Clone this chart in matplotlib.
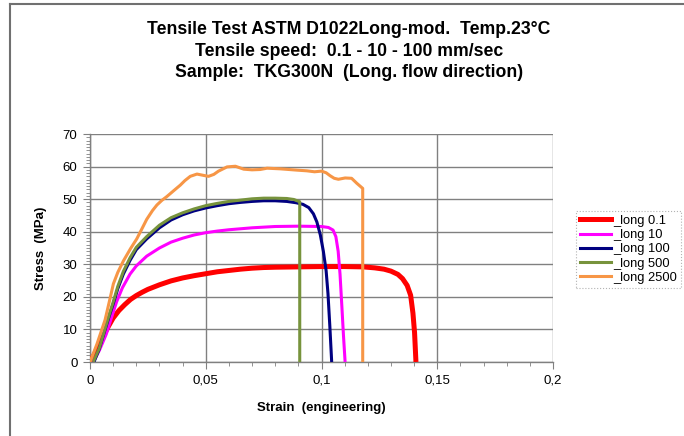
import matplotlib
matplotlib.use("Agg")
import matplotlib.pyplot as plt
from matplotlib.lines import Line2D
from matplotlib.ticker import MultipleLocator, FuncFormatter

plt.rcParams['font.family'] = ['Liberation Sans', 'DejaVu Sans']

labels = ["_long 0.1", "_long 10", "_long 100", "_long 500", "_long 2500"]
colors = ["#FF0000", "#FF00FF", "#000080", "#77933C", "#F79646"]
widths = [3.6, 2.2, 2.2, 2.2, 2.2]

strain_01 = [0.0, 0.002, 0.004, 0.006, 0.008, 0.010, 0.0125, 0.015, 0.0175, 0.02, 0.0225, 0.025, 0.03, 0.035, 0.04, 0.045, 0.05, 0.055, 0.06, 0.065, 0.07, 0.075, 0.08, 0.09, 0.1, 0.11, 0.118, 0.123, 0.127, 0.13, 0.133, 0.135, 0.137, 0.1385, 0.1395, 0.1402, 0.1408]
stress_01 = [0.0, 2.5, 5.5, 8.3, 11.0, 13.5, 15.8, 17.6, 19.2, 20.4, 21.4, 22.3, 23.7, 24.9, 25.8, 26.5, 27.1, 27.7, 28.1, 28.5, 28.8, 29.0, 29.1, 29.2, 29.3, 29.3, 29.2, 28.9, 28.5, 27.9, 26.9, 25.6, 23.5, 20.5, 15.0, 9.0, 0.0]

strain_10 = [0.0014, 0.004, 0.007, 0.009, 0.0115, 0.014, 0.0173, 0.02, 0.0245, 0.03, 0.035, 0.04, 0.045, 0.05, 0.055, 0.06, 0.065, 0.07, 0.075, 0.08, 0.09, 0.1, 0.103, 0.105, 0.1062, 0.1072, 0.108, 0.1088, 0.1095, 0.1102]
stress_10 = [0.0, 3.5, 8.5, 13.0, 18.5, 22.8, 27.0, 29.5, 32.5, 35.0, 36.8, 38.0, 39.0, 39.7, 40.2, 40.6, 40.9, 41.2, 41.4, 41.6, 41.7, 41.6, 41.3, 40.5, 38.5, 34.0, 27.0, 17.0, 8.0, 0.0]

strain_100 = [0.0017, 0.004, 0.0065, 0.0085, 0.0101, 0.012, 0.0144, 0.0173, 0.02, 0.0245, 0.03, 0.035, 0.04, 0.045, 0.05, 0.055, 0.06, 0.065, 0.07, 0.075, 0.08, 0.085, 0.089, 0.092, 0.0945, 0.0965, 0.098, 0.0995, 0.1008, 0.102, 0.1028, 0.1036, 0.1044]
stress_100 = [0.0, 4.0, 9.9, 14.5, 18.0, 22.5, 27.0, 31.2, 34.5, 37.8, 41.2, 43.6, 45.2, 46.4, 47.3, 48.0, 48.6, 49.0, 49.3, 49.5, 49.5, 49.3, 48.9, 48.4, 47.4, 45.5, 43.0, 39.0, 34.0, 28.0, 21.0, 11.0, 0.0]

strain_500 = [0.0014, 0.004, 0.0065, 0.0085, 0.0101, 0.012, 0.0144, 0.0173, 0.02, 0.0245, 0.03, 0.035, 0.04, 0.045, 0.05, 0.055, 0.06, 0.065, 0.07, 0.075, 0.08, 0.085, 0.088, 0.0906, 0.0906]
stress_500 = [0.0, 4.2, 10.2, 15.0, 18.6, 23.2, 27.8, 32.0, 35.2, 38.5, 42.0, 44.3, 45.8, 47.0, 48.0, 48.7, 49.3, 49.7, 50.1, 50.3, 50.3, 50.2, 49.9, 49.2, 0.0]

strain_2500 = [0.0, 0.003, 0.0065, 0.0085, 0.0101, 0.012, 0.0144, 0.0175, 0.0202, 0.0225, 0.0245, 0.027, 0.0289, 0.031, 0.0332, 0.036, 0.039, 0.041, 0.0433, 0.0462, 0.049, 0.0512, 0.0535, 0.0555, 0.0592, 0.0628, 0.0664, 0.07, 0.0735, 0.0765, 0.0823, 0.0895, 0.0936, 0.097, 0.1, 0.102, 0.1037, 0.1055, 0.1073, 0.1102, 0.113, 0.1152, 0.1178, 0.1178]
stress_2500 = [0.0, 5.5, 12.9, 19.0, 24.0, 27.5, 31.0, 34.8, 37.8, 41.0, 43.8, 46.5, 48.2, 49.6, 50.8, 52.5, 54.3, 55.7, 57.0, 57.7, 57.3, 57.0, 57.6, 58.6, 59.9, 60.1, 59.2, 59.0, 59.1, 59.5, 59.3, 58.9, 58.7, 58.4, 58.6, 58.1, 57.2, 56.4, 56.1, 56.5, 56.4, 54.9, 53.3, 0.0]

series = [(strain_01, stress_01), (strain_10, stress_10), (strain_100, stress_100),
          (strain_500, stress_500), (strain_2500, stress_2500)]

title = "Tensile Test ASTM D1022Long-mod.  Temp.23°C\nTensile speed:  0.1 - 10 - 100 mm/sec\nSample:  TKG300N  (Long. flow direction)"

fig = plt.figure(figsize=(6.84, 4.36), dpi=100)
W, H = 684, 436
ax = fig.add_axes([90 / W, 1 - 362 / H, (553 - 90) / W, (362 - 134) / H])

for (x, y), c, lw in zip(series, colors, widths):
    ax.plot(x, y, color=c, lw=lw, solid_joinstyle='round', solid_capstyle='butt', zorder=3)

ax.set_xlim(0, 0.2)
ax.set_ylim(0, 70)
ax.xaxis.set_major_locator(MultipleLocator(0.05))
ax.xaxis.set_minor_locator(MultipleLocator(0.01))
ax.yaxis.set_major_locator(MultipleLocator(10))
ax.yaxis.set_minor_locator(MultipleLocator(1))

def fmt(v, pos):
    s = ("%.2f" % v).rstrip('0').rstrip('.')
    return s.replace('.', ',')
ax.xaxis.set_major_formatter(FuncFormatter(fmt))

ax.grid(True, which='major', color='#808080', lw=1.0, zorder=1)
for s in ['top', 'right']:
    ax.spines[s].set_visible(False)
for s in ['left', 'bottom']:
    ax.spines[s].set_color('#808080')
    ax.spines[s].set_linewidth(1.0)
ax.tick_params(which='major', direction='out', length=5, width=0.8, color='#808080', labelsize=9.5, pad=4)
ax.tick_params(which='minor', direction='out', length=3, width=0.6, color='#808080')

ax.set_xlabel("Strain  (engineering)", fontsize=9.5, fontweight='bold', labelpad=11)
ax.set_ylabel("Stress  (MPa)", fontsize=9.5, fontweight='bold', labelpad=11)

fig.text(349 / W, 1 - 51 / H, title, ha='center', va='center', fontsize=12.7,
         fontweight='bold', linespacing=1.32)

handles = [Line2D([], [], color=c, lw=lw) for c, lw in zip(colors, widths)]
leg = fig.legend(handles, labels, loc='upper left', bbox_to_anchor=(576 / W, 1 - 211 / H),
                 fontsize=9.3, frameon=True, fancybox=False, borderpad=0.3,
                 handlelength=2.4, handletextpad=0.15, labelspacing=0.17, borderaxespad=0)
leg.get_frame().set_edgecolor('#A0A0A0')
leg.get_frame().set_linewidth(0.8)
leg.get_frame().set_linestyle(':')

# figure border lines (top and left)
fig.add_artist(Line2D([10 / W, 1], [1 - 4 / H, 1 - 4 / H], transform=fig.transFigure, color='#707070', lw=1.5))
fig.add_artist(Line2D([10 / W, 10 / W], [0, 1 - 4 / H], transform=fig.transFigure, color='#707070', lw=1.5))

fig.savefig("out.png", dpi=100)
